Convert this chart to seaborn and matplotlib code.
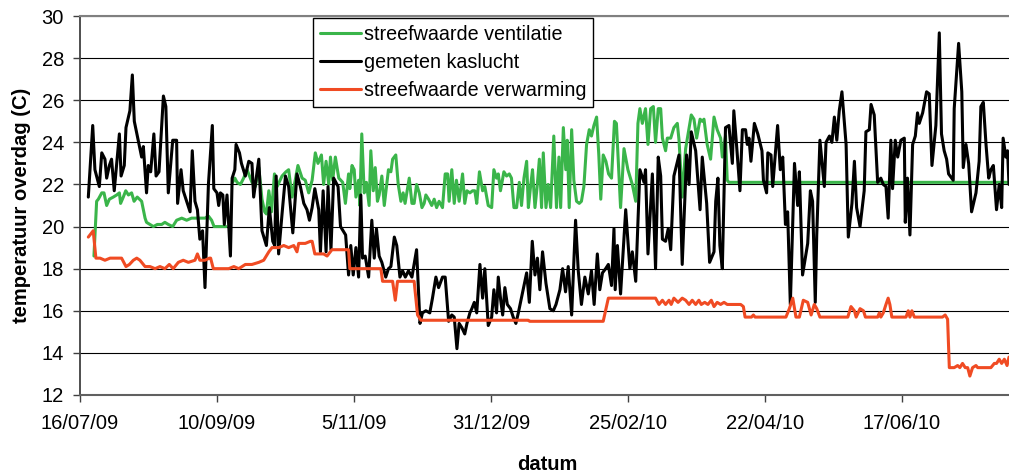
import numpy as np
import pandas as pd
import matplotlib
matplotlib.use("Agg")
import matplotlib.pyplot as plt
from matplotlib.lines import Line2D
import seaborn as sns

# ---------------- data (day offset from 16/07/09, temperature in C) ----------------
START = "2009-07-16"

tick_labels = ["16/07/09", "10/09/09", "5/11/09", "31/12/09", "25/02/10", "22/04/10", "17/06/10"]

meas_days = [3.4, 5.2, 6.1, 7.9, 8.9, 10.2, 10.9, 12.0, 12.9, 14.0, 16.1, 16.8, 18.1, 18.8, 20.4, 21.4, 22.2,
             24.3, 25.2, 25.9, 27.2, 27.9, 28.9, 30.2, 31.1, 32.3, 34.1, 35.1, 36.1, 37.9, 39.5, 39.9, 41.3,
             42.2, 45.0, 45.9, 47.0, 48.0, 49.0, 50.1, 51.1, 52.5, 54.1, 54.7, 56.0, 56.7, 57.4, 58.4, 59.0,
             60.1, 61.5, 62.2, 63.3, 63.8, 65.2, 66.0, 67.6, 69.0, 70.3, 71.0, 73.1, 74.4, 76.2, 77.4, 78.8,
             79.6, 80.2, 81.2, 82.6, 84.0, 85.3, 87.0, 88.7, 90.1, 91.5, 92.8, 93.8, 94.9, 96.0, 97.6, 98.3,
             99.4, 100.6, 101.4, 102.6, 103.7, 105.5, 106.5, 108.6, 109.8, 110.7, 111.7, 112.8, 113.9, 114.8,
             115.5, 116.6, 118.0, 119.3, 120.3, 121.2, 122.3, 123.4, 125.0, 126.1, 127.1, 128.5, 129.5, 130.8,
             131.9, 133.0, 134.3, 135.7, 137.6, 139.0, 140.0, 141.4, 143.0, 144.1, 145.5, 146.6, 148.2, 149.3,
             150.7, 152.0, 153.0, 154.1, 155.0, 156.1, 157.3, 158.2, 159.4, 160.2, 161.2, 162.2, 163.5, 164.6,
             165.5, 166.9, 168.3, 169.2, 170.3, 171.0, 172.0, 172.8, 173.7, 174.7, 176.0, 177.1, 178.2, 179.2,
             180.1, 181.2, 182.6, 183.7, 184.9, 186.0, 187.0, 188.0, 189.1, 190.5, 192.1, 193.5, 194.6, 196.2,
             197.3, 198.5, 199.6, 201.0, 202.6, 203.7, 205.0, 206.4, 207.8, 209.1, 210.2, 211.5, 212.5, 213.6,
             214.9, 216.0, 217.3, 218.3, 218.8, 219.7, 221.0, 223.1, 224.8, 225.8, 227.2, 228.9, 230.6, 231.2,
             232.2, 234.0, 235.3, 236.4, 237.4, 238.1, 239.4, 240.5, 241.5, 242.8, 244.9, 246.2, 248.0, 249.0,
             249.9, 251.7, 253.5, 254.4, 256.2, 257.4, 259.2, 259.9, 260.8, 261.6, 262.6, 263.9, 265.3, 266.7,
             267.3, 268.4, 269.8, 270.8, 272.1, 272.8, 273.5, 274.3, 275.7, 277.1, 278.8, 279.4, 280.7, 281.2,
             282.5, 283.2, 285.2, 286.3, 287.3, 288.4, 289.3, 290.4, 292.1, 293.4, 294.1, 295.4, 297.5, 298.6,
             299.5, 300.6, 301.2, 302.5, 304.3, 305.0, 306.4, 307.4, 308.4, 309.4, 310.4, 311.5, 313.2, 314.1,
             315.6, 316.6, 317.5, 318.9, 320.6, 321.3, 322.7, 323.4, 324.7, 326.1, 327.4, 328.4, 329.5, 330.4,
             331.5, 332.2, 333.3, 334.3, 335.6, 337.0, 337.4, 338.3, 339.3, 340.4, 341.5, 342.4, 343.1, 344.5,
             346.1, 347.2, 348.3, 349.9, 351.3, 352.2, 353.3, 354.3, 355.1, 357.0, 357.4, 359.2, 360.5, 361.1,
             362.2, 363.3, 364.5, 366.3, 367.6, 368.3, 369.3, 370.4, 371.5, 372.4, 373.4, 374.7, 375.8, 376.8,
             377.4, 378.5, 379.2, 379.8]
meas_temp = [21.4, 24.8, 22.7, 21.9, 23.5, 23.2, 22.3, 22.9, 23.2, 21.7, 24.4, 22.4, 22.9, 24.7, 25.5, 27.2, 25.0,
             23.8, 23.3, 23.8, 21.6, 22.9, 22.6, 24.4, 22.4, 22.6, 26.2, 25.7, 21.6, 24.1, 24.1, 21.1, 22.7,
             21.7, 20.7, 23.6, 21.2, 20.8, 19.4, 19.8, 17.1, 22.0, 24.8, 21.8, 21.6, 21.0, 21.6, 21.5, 20.1,
             21.5, 18.6, 22.3, 22.7, 23.9, 23.5, 23.0, 22.4, 23.1, 23.0, 21.4, 23.2, 19.8, 19.1, 20.9, 19.3,
             19.1, 22.4, 18.7, 20.6, 22.4, 21.9, 19.7, 22.5, 21.9, 21.1, 20.8, 20.3, 20.9, 21.8, 20.8, 18.8,
             21.7, 18.8, 21.9, 18.9, 22.3, 21.9, 20.0, 19.6, 17.7, 19.1, 17.7, 19.0, 17.6, 21.5,
             18.5, 18.6, 17.6, 20.3, 18.5, 19.9, 18.6, 18.3, 17.6, 18.0, 18.1, 19.5, 19.1, 17.6,
             17.9, 17.6, 17.9, 17.6, 18.9, 15.4, 15.9, 16.0, 15.9, 16.6, 17.6, 17.1, 17.6, 17.6,
             15.5, 15.8, 15.7, 14.2, 15.4, 15.2, 14.9, 15.4, 15.9, 16.1, 16.4, 15.9, 18.2, 16.6,
             18.0, 15.3, 15.7, 17.0, 15.9, 17.6, 16.5, 15.8, 17.1, 16.3, 16.1, 15.7, 15.4, 15.9,
             16.4, 17.0, 17.8, 16.4, 19.3, 17.7, 18.5, 17.0, 18.8, 17.3, 16.1, 16.0, 16.3, 17.0,
             18.0, 16.9, 18.1, 15.8, 20.3, 17.9, 16.3, 17.6, 16.8, 17.9, 16.3, 18.7, 17.0, 17.8,
             18.0, 18.2, 17.2, 19.9, 17.0, 19.1, 16.8, 20.8, 18.0, 18.8, 17.4, 22.7, 22.1, 22.7,
             18.7, 22.5, 18.0, 23.3, 22.4, 19.4, 19.3, 19.9, 18.9, 22.4, 23.4, 18.2, 23.4, 22.0,
             24.5, 23.6, 20.8, 23.3, 21.1, 18.3, 18.8, 21.2, 22.3, 19.1, 18.0, 24.7, 24.8, 23.0,
             25.5, 23.9, 21.7, 24.6, 24.6, 23.9, 24.2, 23.1, 24.9, 24.4, 23.6, 22.2, 21.6, 23.5,
             23.4, 21.9, 24.8, 22.7, 23.3, 20.1, 20.7, 16.3, 23.0, 21.0, 22.6, 17.7, 19.2, 21.7,
             21.2, 16.4, 19.6, 24.1, 21.9, 24.0, 24.3, 24.0, 25.2, 24.1, 25.5, 26.4, 23.9, 19.5,
             21.1, 23.1, 20.9, 20.0, 21.7, 24.5, 24.6, 25.8, 25.3, 22.1, 22.3, 22.0, 21.9, 20.4,
             24.1, 21.8, 24.1, 23.3, 24.1, 24.2, 20.2, 22.3, 19.6, 23.9, 24.3, 25.4, 24.9, 25.4,
             26.4, 26.3, 22.9, 24.8, 29.2, 24.4, 23.6, 23.2, 22.5, 22.2, 25.6, 28.7, 26.4, 22.8,
             23.9, 23.0, 20.7, 21.6, 23.1, 25.7, 25.9, 23.9, 22.3, 22.7, 22.9, 20.8, 22.0, 20.9,
             24.2, 23.3, 23.6, 22.0]

vent_days_a = [5.7, 6.8, 7.5, 8.9, 9.8, 10.9, 12.0, 13.6, 15.0, 16.1, 16.6, 17.7, 18.7, 19.8, 21.1, 22.1, 23.4,
               25.2, 26.6, 27.2, 28.6, 30.0, 31.6, 33.4, 34.7, 36.1, 37.9, 39.5, 41.6, 43.6, 45.6, 47.7, 49.7,
               51.1, 52.5, 53.8, 54.8, 56.7, 58.8, 59.7]
vent_temp_a = [18.6, 21.2, 21.3, 21.6, 21.6, 21.0, 21.3, 21.4, 21.5, 21.6, 21.1, 21.4, 21.7, 21.5, 21.6, 21.2, 21.4,
               21.2, 20.4, 20.2, 20.1, 20.0, 20.1, 20.1, 20.2, 20.1, 20.0, 20.3, 20.4, 20.3, 20.4, 20.4, 20.4,
               20.4, 20.5, 20.3, 20.0, 20.0, 20.0, 20.0]
vent_days_b = [62.4, 63.3, 64.2, 65.6, 66.9, 68.3, 69.3, 70.3, 71.7, 73.1, 74.4, 75.5, 76.2, 77.2, 78.3, 79.5,
               80.6, 82.6, 84.2, 85.3, 86.7, 87.8, 89.1, 90.8, 92.1, 93.5, 94.9, 96.2, 97.3, 98.7, 99.6, 100.6,
               101.7, 102.4, 103.3, 104.4, 105.8, 107.4, 108.5, 109.8, 110.3, 111.2, 112.1, 112.8, 113.9, 114.4,
               115.2, 116.2, 117.1, 118.2, 118.9, 119.9, 120.7, 121.6, 122.3, 123.4, 124.4, 125.3, 126.1, 127.1,
               127.8, 129.1, 130.1, 131.2, 132.1, 132.9, 133.9, 134.6, 135.7, 136.6, 137.6, 138.7, 139.8, 140.7,
               141.4, 142.5, 143.8, 144.8, 145.8, 146.8, 148.2, 149.3, 150.3, 150.9, 152.0, 153.0, 153.9, 155.0,
               156.4, 157.3, 158.2, 159.4, 160.5, 161.4, 162.2, 163.3, 164.6, 165.5, 166.9, 168.3, 169.2, 170.3,
               171.0, 171.9, 173.3, 174.4, 175.5, 176.4, 177.4, 178.5, 179.6, 180.5, 181.5, 182.6, 183.3, 184.2,
               185.0, 186.0, 186.9, 187.8, 188.7, 189.4, 190.5, 191.4, 192.4, 193.7, 194.8, 195.8, 196.5, 197.6,
               198.6, 199.2, 200.0, 201.0, 201.9, 203.0, 204.1, 205.0, 206.0, 207.1, 208.2, 209.1, 210.1, 211.2,
               212.1, 212.9, 213.9, 215.0, 216.1, 217.3, 218.5, 219.3, 221.0, 222.4, 224.0, 225.8, 227.2, 228.1,
               228.9, 229.9, 231.2, 232.2, 233.3, 234.4, 235.3, 236.4, 237.4, 238.1, 239.4, 240.1, 241.5, 242.8,
               244.2, 244.9, 246.2, 247.6, 248.9, 249.9, 251.0, 252.1, 253.5, 254.4, 255.1, 256.4, 257.8, 259.2,
               260.5, 261.9, 262.6, 263.9, 264.6, 265.3, 300.0, 340.0, 379.8]
vent_temp_b = [22.1, 22.3, 22.1, 22.0, 22.3, 22.7, 22.4, 22.1, 21.9, 22.8, 21.3, 20.7, 20.6, 21.7, 20.7, 22.5,
               21.9, 22.4, 22.6, 22.7, 21.4, 22.1, 22.9, 22.3, 22.2, 21.6, 22.2, 23.5, 23.0, 23.4, 22.0, 23.1,
               22.0, 23.3, 22.2, 23.3, 22.3, 22.1, 21.1, 22.5, 21.8, 22.9, 22.7, 21.4, 22.2, 21.0,
               24.4, 21.6, 22.1, 21.0, 23.6, 21.7, 22.8, 21.2, 21.5, 22.4, 21.0, 21.9, 22.7, 22.6,
               23.2, 23.4, 22.0, 21.2, 21.6, 21.1, 21.8, 22.3, 21.1, 21.1, 22.0, 21.6, 20.9, 21.1,
               21.5, 21.3, 21.0, 21.3, 20.9, 21.2, 20.9, 22.5, 22.5, 21.2, 22.7, 21.1, 22.2, 21.2,
               22.5, 21.1, 21.7, 21.6, 21.7, 21.7, 21.1, 22.6, 21.7, 21.9, 21.0, 20.9, 22.7, 22.3,
               22.5, 21.7, 22.6, 22.4, 22.5, 22.3, 20.9, 20.9, 22.1, 21.0, 22.3, 23.1, 20.9, 21.9,
               22.7, 20.9, 21.9, 23.2, 20.9, 23.5, 20.9, 22.0, 20.9, 24.3, 20.9, 23.3, 20.9, 24.7,
               22.7, 24.1, 20.9, 24.6, 22.2, 21.2, 21.1, 21.2, 21.9, 23.9, 24.6, 24.3, 24.8, 25.2,
               23.4, 21.3, 23.4, 23.1, 22.5, 22.3, 25.0, 24.9, 20.9, 23.7, 22.7, 22.0, 21.2, 24.9,
               25.6, 24.9, 25.6, 23.9, 25.6, 25.7, 24.0, 25.6, 25.6, 24.2, 23.6, 24.2, 24.2, 24.7,
               24.9, 24.1, 21.4, 23.7, 24.6, 25.3, 25.1, 24.2, 25.1, 25.0, 25.1, 23.9, 23.2, 25.2,
               24.6, 24.2, 23.3, 24.3, 22.2, 22.1, 22.1, 22.1, 22.1]

heat_days = [3.4, 5.4, 6.5, 8.2, 10.2, 12.3, 15.7, 17.0, 18.8, 20.2, 21.8, 23.2, 24.5, 26.6, 28.6, 30.7, 32.7,
             34.7, 36.5, 38.1, 40.2, 42.2, 44.3, 47.0, 48.0, 49.0, 51.1, 52.9, 53.4, 54.5, 58.1, 60.8, 62.9,
             64.9, 67.6, 70.3, 73.1, 75.1, 77.2, 78.5, 81.2, 83.3, 85.3, 87.4, 88.7, 89.4, 92.1, 94.2, 94.9,
             96.0, 97.6, 99.6, 101.0, 103.0, 105.1, 107.8, 109.8, 110.3, 123.0, 123.7, 127.8, 128.9, 129.8,
             136.6, 138.0, 139.4, 183.3, 183.8, 213.9, 216.0, 235.3, 236.7, 238.1, 239.4, 240.8, 241.7, 242.8,
             244.5, 246.2, 247.6, 249.0, 250.3, 251.7, 253.0, 254.0, 255.4, 256.7, 258.1, 259.2, 260.5, 261.9,
             263.3, 264.6, 270.1, 271.2, 271.9, 274.5, 275.3, 276.0, 288.6, 290.0, 291.4, 292.7, 294.1, 295.7,
             297.5, 298.9, 300.2, 301.2, 302.5, 313.9, 315.2, 316.6, 317.3, 318.9, 320.3, 321.1, 326.1, 326.8,
             327.4, 328.4, 329.5, 330.4, 331.1, 331.9, 337.7, 338.6, 339.3, 340.1, 341.1, 352.6, 353.7, 354.7,
             355.4, 357.4, 358.8, 359.7, 360.8, 361.9, 362.9, 363.8, 364.9, 366.3, 367.0, 372.4, 373.8, 374.7,
             375.8, 376.8, 377.9, 379.0, 379.8]
heat_temp = [19.5, 19.8, 18.5, 18.5, 18.4, 18.5, 18.5, 18.5, 18.1, 18.2, 18.4, 18.5, 18.4, 18.1, 18.1, 18.0, 18.1,
             18.0, 18.2, 18.0, 18.3, 18.4, 18.3, 18.4, 18.7, 18.4, 18.4, 18.5, 18.5, 18.0, 18.0, 18.0, 18.1,
             18.0, 18.2, 18.2, 18.3, 18.4, 18.8, 19.0, 19.0, 19.1, 19.0, 19.1, 18.8, 19.2, 19.2, 19.3, 19.3,
             18.7, 18.7, 18.7, 18.6, 18.9, 18.9, 18.9, 18.9, 18.0, 18.0, 17.4, 17.4, 16.5, 17.4,
             17.4, 15.8, 15.55, 15.55, 15.5, 15.5, 16.6, 16.6, 16.3, 16.5, 16.3, 16.5, 16.3, 16.6,
             16.4, 16.6, 16.5, 16.3, 16.5, 16.3, 16.5, 16.3, 16.4, 16.3, 16.5, 16.2, 16.4, 16.3,
             16.4, 16.3, 16.3, 16.2, 15.7, 15.7, 15.8, 15.7, 15.7, 16.1, 16.6, 15.7, 15.7, 16.5,
             16.4, 15.8, 16.3, 16.1, 15.7, 15.7, 16.2, 16.0, 15.7, 16.1, 16.0, 15.7, 15.7, 15.9,
             15.7, 15.9, 16.3, 16.6, 16.3, 15.7, 15.7, 16.0, 15.7, 16.0, 15.7, 15.7, 15.8, 15.6,
             13.3, 13.3, 13.4, 13.3, 13.5, 13.3, 13.3, 12.9, 13.3, 13.4, 13.3, 13.3, 13.5, 13.5,
             13.7, 13.5, 13.7, 13.4, 13.8]

labels = ["streefwaarde ventilatie", "gemeten kaslucht", "streefwaarde verwarming"]
colors = ["#3AB54A", "#000000", "#F04B23"]

# ---------------- frames ----------------
t0 = pd.Timestamp(START)
def to_dates(days):
    return t0 + pd.to_timedelta(np.asarray(days, dtype=float), unit="D")

vent_df = pd.DataFrame({
    "date": np.concatenate([to_dates(vent_days_a), to_dates(vent_days_b)]),
    "temp": vent_temp_a + vent_temp_b,
    "seg": [0] * len(vent_days_a) + [1] * len(vent_days_b),
})
meas_df = pd.DataFrame({"date": to_dates(meas_days), "temp": meas_temp})
heat_df = pd.DataFrame({"date": to_dates(heat_days), "temp": heat_temp})

# ---------------- plot ----------------
sns.set_theme(style="white")
plt.rcParams["font.family"] = ["Liberation Sans", "DejaVu Sans"]
plt.rcParams["text.color"] = "black"
plt.rcParams["axes.labelcolor"] = "black"
plt.rcParams["xtick.color"] = "black"
plt.rcParams["ytick.color"] = "black"

W, H = 1009, 474
fig = plt.figure(figsize=(W / 100, H / 100), dpi=100)
fig.patch.set_facecolor("white")
L, R, T, B = 80, 1009, 16, 395
ax = fig.add_axes([L / W, (H - B) / H, (R - L) / W, (B - T) / H])
ax.set_facecolor("white")

lw = 2.2
sns.lineplot(data=vent_df, x="date", y="temp", units="seg", estimator=None, sort=False,
             color=colors[0], linewidth=lw, ax=ax)
sns.lineplot(data=meas_df, x="date", y="temp", estimator=None, sort=False,
             color=colors[1], linewidth=lw, ax=ax)
sns.lineplot(data=heat_df, x="date", y="temp", estimator=None, sort=False,
             color=colors[2], linewidth=lw, ax=ax)

ax.set_ylim(12, 30)
ax.set_yticks(np.arange(12, 31, 2))
ax.set_xlim(t0, t0 + pd.Timedelta(days=379.8))
tick_dates = [t0 + pd.Timedelta(days=56 * i) for i in range(len(tick_labels))]
ax.set_xticks(tick_dates)
ax.set_xticklabels(tick_labels)

ax.yaxis.grid(True, color="black", linewidth=0.8)
ax.xaxis.grid(False)
ax.set_axisbelow(True)

ax.spines["right"].set_visible(False)
ax.spines["top"].set_color("#808080")
ax.spines["top"].set_linewidth(1.5)
ax.spines["left"].set_color("#404040")
ax.spines["left"].set_linewidth(1.3)
ax.spines["bottom"].set_color("#606060")
ax.spines["bottom"].set_linewidth(1.5)

ax.tick_params(axis="both", which="major", direction="out", length=5, width=1.0,
               color="#404040", labelsize=14.5, labelcolor="black")
ax.tick_params(axis="y", pad=6.5, left=True)
ax.tick_params(axis="x", pad=9, bottom=True)

ax.set_xlabel("")
ax.set_ylabel("")
fig.text(22 / W, 1 - 205 / H, "temperatuur overdag (C)", rotation=90, ha="center", va="center",
         fontsize=14.5, fontweight="bold", color="black")
fig.text(547 / W, 1 - 470 / H, "datum", ha="center", va="baseline", fontsize=14.5,
         fontweight="bold", color="black")

handles = [Line2D([0], [0], color=c, linewidth=lw) for c in colors]
leg = ax.legend(handles, labels, loc="upper left", bbox_to_anchor=((313 - L) / (R - L), 1 - 2 / (B - T)),
                borderaxespad=0, frameon=True, fancybox=False, shadow=False, framealpha=1,
                edgecolor="black", fontsize=14.2, handlelength=2.1, handletextpad=0.12,
                labelspacing=0.45, borderpad=0.35)
leg.get_frame().set_linewidth(1.0)
for txt in leg.get_texts():
    txt.set_color("black")

fig.savefig("out.png", dpi=100, facecolor="white")
